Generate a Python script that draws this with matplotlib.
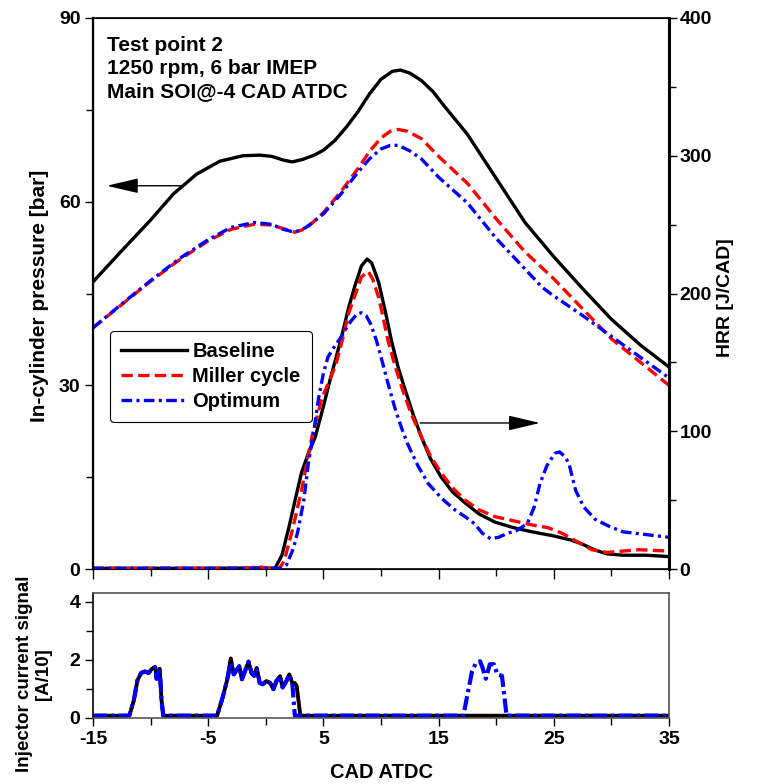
import matplotlib
matplotlib.use("Agg")
import matplotlib.pyplot as plt
from matplotlib.ticker import MultipleLocator, FixedLocator

plt.rcParams['font.family'] = ['Liberation Sans', 'DejaVu Sans']
plt.rcParams['font.weight'] = 'bold'
plt.rcParams['axes.unicode_minus'] = False

# ---------------- data ----------------
p_base_cad = [-15, -12.5, -10, -8, -6, -4, -2, -0.5, 0.5, 1.5, 2.3, 3.2, 4.2, 5, 6, 7, 8, 9, 10,
              11, 11.7, 12.5, 13.5, 14.5, 15.5, 17.5, 20, 22.5, 25, 27.5, 30, 32.5, 35]
p_base = [46.9, 52.0, 57.0, 61.3, 64.5, 66.6, 67.5, 67.6, 67.4, 66.8, 66.5, 66.9, 67.6, 68.4,
          70.0, 72.2, 74.7, 77.6, 80.0, 81.3, 81.5, 81.0, 79.8, 78.0, 75.6, 71.0, 63.8, 56.6,
          51.0, 45.8, 40.8, 36.6, 33.0]

p_mil_cad = [-15, -12.5, -10, -7.5, -5, -3, -1, 0.5, 1.5, 2.5, 3.5, 5, 6.5, 8, 9, 10, 10.8,
             11.5, 12.3, 13.5, 15, 17.5, 20, 22.5, 25, 27.5, 30, 32.5, 35]
p_mil = [39.4, 43.2, 47.0, 50.5, 53.6, 55.5, 56.3, 56.2, 55.6, 55.0, 55.6, 58.2, 61.6, 65.4,
         68.2, 70.4, 71.5, 71.8, 71.5, 70.3, 67.4, 63.0, 57.2, 51.8, 47.4, 42.5, 37.6, 33.8, 30.0]

p_opt_cad = [-15, -12.5, -10, -7.5, -5, -3, -1, 0.5, 1.5, 2.5, 3.5, 5, 6.5, 8, 9, 10, 10.8,
             11.5, 12.5, 13.5, 15, 17.5, 20, 22.5, 24, 25, 27.5, 30, 32.5, 35]
p_opt = [39.4, 43.3, 47.1, 50.7, 53.8, 55.8, 56.6, 56.3, 55.5, 55.0, 55.8, 58.0, 61.2, 64.8,
         67.0, 68.6, 69.2, 69.2, 68.3, 67.0, 64.0, 59.8, 54.0, 49.0, 46.0, 44.6, 41.4, 38.0,
         34.6, 31.2]

h_base_cad = [-15, -5, 0, 0.8, 1.4, 2.0, 2.6, 3.1, 3.7, 4.3, 5.0, 5.6, 6.5, 7.2, 7.75, 8.3, 8.8,
              9.2, 9.8, 10.4, 10.9, 11.5, 12.1, 12.8, 13.5, 14.3, 15.2, 16.2, 17.3, 18.5, 19.9,
              21.5, 23.1, 25, 26.5, 27.5, 28.5, 29.6, 31, 33, 35]
h_base = [0.5, 0.5, 0.8, 0.5, 10, 30, 52, 70, 84, 96, 118, 138, 166, 190, 206, 220, 225, 222,
          208, 186, 166, 146, 130, 112, 96, 80, 67, 56, 48, 40, 34, 30, 27, 24, 21, 18, 14, 11,
          10, 10, 9]

h_mil_cad = [-15, -2, -0.5, 0.3, 1.2, 1.6, 2.3, 3.1, 4.0, 4.5, 4.9, 5.5, 6.1, 6.7, 7.2, 7.8, 8.3,
             8.9, 9.3, 9.8, 10.2, 10.6, 11.2, 11.8, 12.6, 13.5, 14.3, 15.2, 16.2, 17.3, 18.5,
             19.9, 21.5, 23.1, 24.5, 25.7, 27, 28.3, 29.6, 31, 32.4, 35]
h_mil = [0.5, 0.5, 1.5, 0.5, 0.5, 6, 28, 57, 96, 112, 125, 136, 149, 168, 186, 200, 212, 216,
         210, 197, 182, 166, 148, 132, 113, 96, 82, 70, 59, 50, 43, 38, 35, 32, 30, 26, 20, 14,
         12, 13, 14, 13]

h_opt_cad = [-15, 1.4, 1.8, 2.4, 2.8, 3.3, 3.7, 4.2, 4.6, 5.0, 5.4, 6.0, 6.5, 7.0, 7.4, 7.9, 8.3,
             8.7, 9.1, 9.6, 10.0, 10.6, 11.2, 11.8, 12.3, 13.2, 14.1, 15.3, 16.4, 17.3, 18.1,
             18.8, 19.5, 20.2, 21, 21.8, 22.7, 23.3, 23.8, 24.4, 25.1, 25.5, 25.9, 26.3, 26.9,
             27.6, 28.6, 29.8, 31.0, 33, 35]
h_opt = [0.5, 0.5, 3, 15, 28, 50, 77, 102, 125, 142, 154, 162, 168, 175, 180, 185, 186, 184, 178,
         166, 154, 135, 117, 102, 91, 75, 62, 51, 43, 38, 33, 26, 22, 23, 26, 28, 33, 45, 62, 75,
         84, 85, 82, 77, 57, 45, 36, 31, 27, 25, 23]

inj_cad = [-15, -11.85, -11.46, -11.14, -10.82, -10.5, -10.18, -9.86, -9.6, -9.48, -9.21, -9.05,
           -8.9, -4.23, -3.75, -3.36, -3.04, -2.78, -2.52, -2.30, -2.07, -1.82, -1.50, -1.24,
           -1.01, -0.79, -0.53, -0.27, 0.05, 0.37, 0.66, 0.92, 1.24, 1.46, 1.79, 2.04, 2.30,
           2.52, 2.68, 3.0, 35]
inj_base = [0.08, 0.08, 0.6, 1.3, 1.55, 1.6, 1.55, 1.7, 1.75, 1.35, 1.7, 0.6, 0.08, 0.08, 0.7,
            1.3, 2.05, 1.5, 1.66, 1.78, 1.33, 1.6, 1.94, 1.55, 1.45, 1.72, 1.21, 1.16, 1.27,
            1.21, 0.99, 1.27, 1.44, 1.05, 1.27, 1.5, 1.2, 1.2, 1.1, 0.08, 0.08]
inj_mil = inj_base

inj_opt_cad = [-15, -11.85, -11.46, -11.14, -10.82, -10.5, -10.18, -9.86, -9.6, -9.48, -9.21,
               -9.05, -8.9, -4.23, -3.75, -3.36, -3.04, -2.78, -2.52, -2.30, -2.07, -1.82, -1.50,
               -1.24, -1.01, -0.79, -0.53, -0.27, 0.05, 0.37, 0.66, 0.92, 1.24, 1.46, 1.79, 2.04,
               2.30, 2.52, 17.15, 17.6, 17.9, 18.25, 18.6, 18.8, 19.1, 19.45, 19.8, 20.1, 20.5,
               20.75, 20.9, 35]
inj_opt = [0.08, 0.08, 0.6, 1.3, 1.55, 1.6, 1.55, 1.7, 1.75, 1.35, 1.7, 0.6, 0.08, 0.08, 0.7,
           1.3, 1.9, 1.5, 1.66, 1.78, 1.33, 1.6, 1.94, 1.55, 1.45, 1.72, 1.21, 1.16, 1.27, 1.21,
           0.99, 1.27, 1.44, 1.05, 1.27, 1.5, 1.2, 0.08, 0.08, 1.0, 1.6, 1.9, 1.95, 1.75, 1.35,
           1.85, 1.85, 1.5, 1.45, 0.6, 0.08, 0.08]

labels = ['Baseline', 'Miller cycle', 'Optimum']
title_lines = ['Test point 2', '1250 rpm, 6 bar IMEP', 'Main SOI@-4 CAD ATDC']

# ---------------- styles ----------------
FS = 14
LW = 2.4
st_base = dict(color='black', lw=LW, ls='-')
st_mil = dict(color='#ff0000', lw=LW, ls=(0, (3.4, 1.6)))
st_opt = dict(color='#0000ff', lw=LW, ls=(0, (3.2, 1.3, 0.9, 1.3)))

fig = plt.figure(figsize=(7.58, 7.84), dpi=100)
W, H = 758, 784
ax = fig.add_axes([93 / W, 1 - 569 / H, 576 / W, 551 / H])
ax2 = ax.twinx()
axb = fig.add_axes([93 / W, 1 - 718 / H, 576 / W, 125 / H])

# pressure
l1, = ax.plot(p_base_cad, p_base, **st_base)
l2, = ax.plot(p_mil_cad, p_mil, **st_mil)
l3, = ax.plot(p_opt_cad, p_opt, **st_opt)
# HRR
ax2.plot(h_base_cad, h_base, **st_base)
ax2.plot(h_mil_cad, h_mil, **st_mil)
ax2.plot(h_opt_cad, h_opt, **st_opt)
# injector
axb.plot(inj_cad, inj_mil, color='#ff0000', lw=2.6, ls='-')
axb.plot(inj_cad, inj_base, color='black', lw=2.6, ls='-')
axb.plot(inj_opt_cad, inj_opt, color='#0000ff', lw=3.0, ls=(0, (3.4, 1.0, 0.8, 1.0)))

ax.set_xlim(-15, 35)
ax.set_ylim(0, 90)
ax2.set_ylim(0, 400)
axb.set_xlim(-15, 35)
axb.set_ylim(0, 4.3)

for a in (ax, axb):
    a.xaxis.set_major_locator(FixedLocator([-15, -5, 5, 15, 25, 35]))
    a.xaxis.set_minor_locator(MultipleLocator(5))
ax.yaxis.set_major_locator(MultipleLocator(30))
ax.yaxis.set_minor_locator(MultipleLocator(15))
ax2.yaxis.set_major_locator(MultipleLocator(100))
ax2.yaxis.set_minor_locator(MultipleLocator(50))
axb.yaxis.set_major_locator(MultipleLocator(2))
axb.yaxis.set_minor_locator(MultipleLocator(1))

for a in (ax, ax2, axb):
    a.tick_params(which='major', direction='out', length=6, width=1, labelsize=FS, pad=3)
    a.tick_params(which='minor', direction='out', length=5, width=1)
ax2.tick_params(which='major', pad=1.5)
ax.tick_params(axis='x', which='both', labelbottom=False)
ax.tick_params(axis='x', which='major', length=7)
for t in ax.get_yticklabels() + ax2.get_yticklabels() + axb.get_yticklabels() + axb.get_xticklabels():
    t.set_fontweight('bold')

for s in ax.spines.values():
    s.set_linewidth(1.2)
ax.spines['left'].set_linewidth(1.6)
ax2.spines['right'].set_linewidth(2.2)
for s in axb.spines.values():
    s.set_linewidth(1.2)
    s.set_color('#555555')
axb.spines['left'].set_color('black')

# legend
leg = ax.legend([l1, l2, l3], labels, loc='lower left', bbox_to_anchor=(0.029, 0.267),
                prop=dict(weight='bold', size=14.5), handlelength=3.3, handletextpad=0.25,
                labelspacing=0.3, borderpad=0.55, borderaxespad=0, fancybox=True,
                framealpha=1, edgecolor='black')
leg.get_frame().set_linewidth(0.8)

# annotations text
ax.text(0.024, 0.968, '\n'.join(title_lines), transform=ax.transAxes, ha='left', va='top',
        fontsize=15, fontweight='bold', linespacing=1.27)

# arrows
arrow_kw = dict(arrowstyle='-|>,head_length=1.4,head_width=0.33', lw=1, color='black',
                shrinkA=0, shrinkB=0, mutation_scale=14)
ax.annotate('', xy=(-13.8, 62.6), xytext=(-7.4, 62.6), arrowprops=arrow_kw)
ax2.annotate('', xy=(23.8, 106), xytext=(13.4, 106), arrowprops=arrow_kw)

# labels
fig.text(40 / W, 1 - 296 / H, 'In-cylinder pressure [bar]', rotation=90, ha='center',
         va='center', fontsize=15, fontweight='bold')
fig.text(725 / W, 1 - 298 / H, 'HRR [J/CAD]', rotation=90, ha='center', va='center',
         fontsize=FS, fontweight='bold')
fig.text(34 / W, 1 - 674 / H, 'Injector current signal\n[A/10]', rotation=90, ha='center',
         va='center', fontsize=13.5, fontweight='bold', linespacing=1.1)
fig.text(381 / W, 1 - 773 / H, 'CAD ATDC', ha='center', va='center', fontsize=14.5,
         fontweight='bold')

fig.savefig('out.png', dpi=100)
